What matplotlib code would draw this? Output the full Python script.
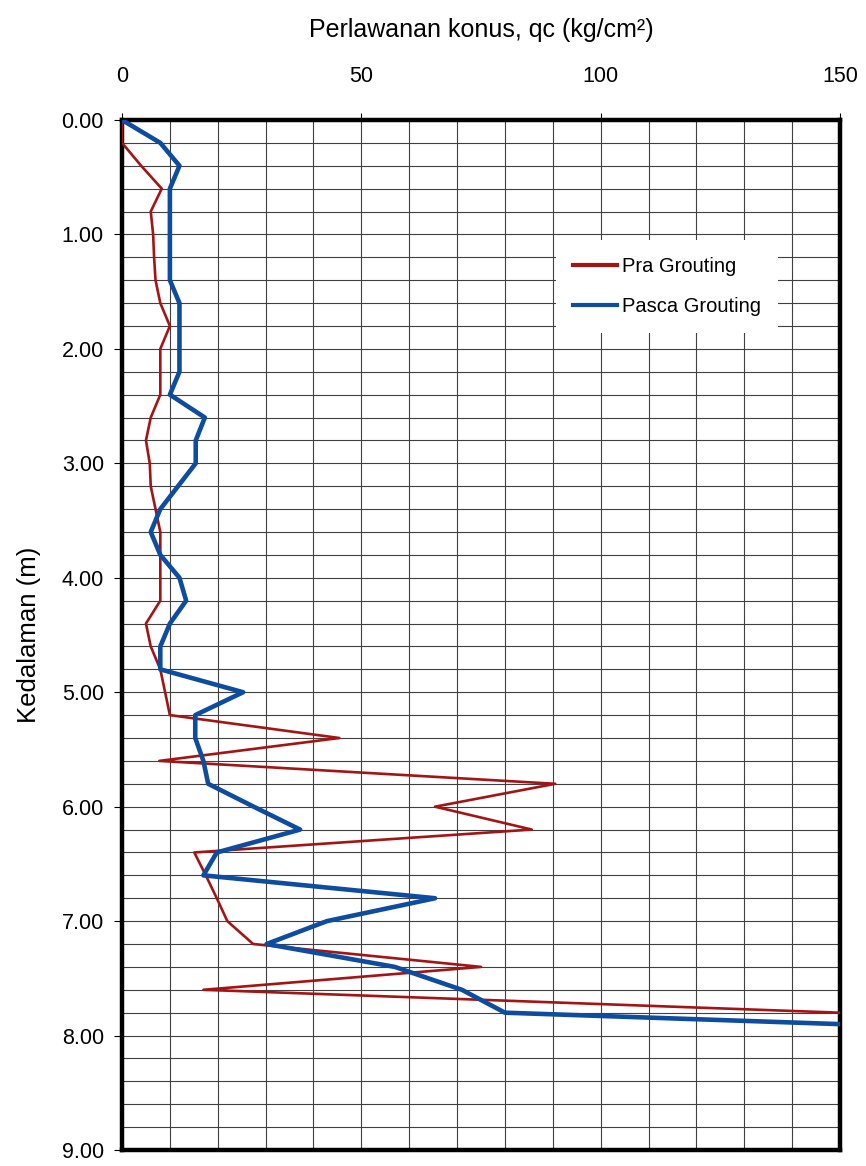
import matplotlib
matplotlib.use("Agg")
import matplotlib.pyplot as plt
from matplotlib.ticker import MultipleLocator, FormatStrFormatter

plt.rcParams['font.family'] = ['Liberation Sans', 'DejaVu Sans']

# depth (m) and cone resistance qc (kg/cm2)
depth = [0.0, 0.2, 0.4, 0.6, 0.8, 1.0, 1.2, 1.4, 1.6, 1.8,
         2.0, 2.2, 2.4, 2.6, 2.8, 3.0, 3.2, 3.4, 3.6, 3.8,
         4.0, 4.2, 4.4, 4.6, 4.8, 5.0, 5.2, 5.4, 5.6, 5.8,
         6.0, 6.2, 6.4, 6.6, 6.8, 7.0, 7.2, 7.4, 7.6, 7.8, 8.0]
qc_pra = [0, 0, 4, 8.3, 6, 6.5, 6.7, 7, 8, 10,
          8, 8, 8, 6, 5, 5.8, 6, 7, 8, 8,
          8, 8, 5, 6, 8, 9, 10, 45.4, 7.8, 90.5,
          65.4, 85.6, 15.1, 17.5, 19.8, 22, 27.4, 75, 17, 150]
qc_pasca = [0, 8, 12, 10, 10, 10, 10, 10, 12, 12,
            12, 12, 10, 17.3, 15.4, 15.4, 11.7, 8, 6, 8,
            12, 13.4, 10, 8, 8, 25.3, 15.3, 15.3, 17, 18,
            27.5, 37.2, 19.8, 17, 65.4, 42.8, 30.2, 57, 71, 80, 220]

fig = plt.figure(figsize=(8.66, 11.66), dpi=100)
ax = fig.add_axes([0.1409, 0.0137, 0.8291, 0.8834])

ax.plot(qc_pra, depth[:len(qc_pra)], color='#A31515', lw=1.9, label='Pra Grouting', zorder=3)
ax.plot(qc_pasca, depth, color='#0D4C9E', lw=3.3, label='Pasca Grouting', zorder=4)

ax.set_xlim(0, 150)
ax.set_ylim(9, 0)

ax.xaxis.set_major_locator(MultipleLocator(50))
ax.xaxis.set_minor_locator(MultipleLocator(10))
ax.yaxis.set_major_locator(MultipleLocator(1))
ax.yaxis.set_minor_locator(MultipleLocator(0.2))
ax.yaxis.set_major_formatter(FormatStrFormatter('%.2f'))

ax.xaxis.tick_top()
ax.xaxis.set_label_position('top')
ax.tick_params(axis='x', which='major', labelsize=15.5, length=5, width=0.8, pad=18.5)
ax.tick_params(axis='y', which='major', labelsize=15.5, length=6, width=0.8, pad=7)
ax.tick_params(which='minor', length=0)

ax.grid(which='both', color='0.25', lw=0.8, zorder=0)
ax.set_axisbelow(True)

for s in ax.spines.values():
    s.set_linewidth(3.2)

ax.set_xlabel('Perlawanan konus, qc (kg/cm²)', fontsize=18, labelpad=21)
ax.set_ylabel('Kedalaman (m)', fontsize=18.5, labelpad=15)

leg = ax.legend(loc='upper left', bbox_to_anchor=(0.604, 0.8835), borderaxespad=0,
                fontsize=14.5, frameon=True, fancybox=False, framealpha=1,
                edgecolor='none', handlelength=2.2, handletextpad=0.25,
                labelspacing=1.05, borderpad=0.85)
for line in leg.get_lines():
    line.set_linewidth(3)

plt.savefig('out.png', dpi=100)
